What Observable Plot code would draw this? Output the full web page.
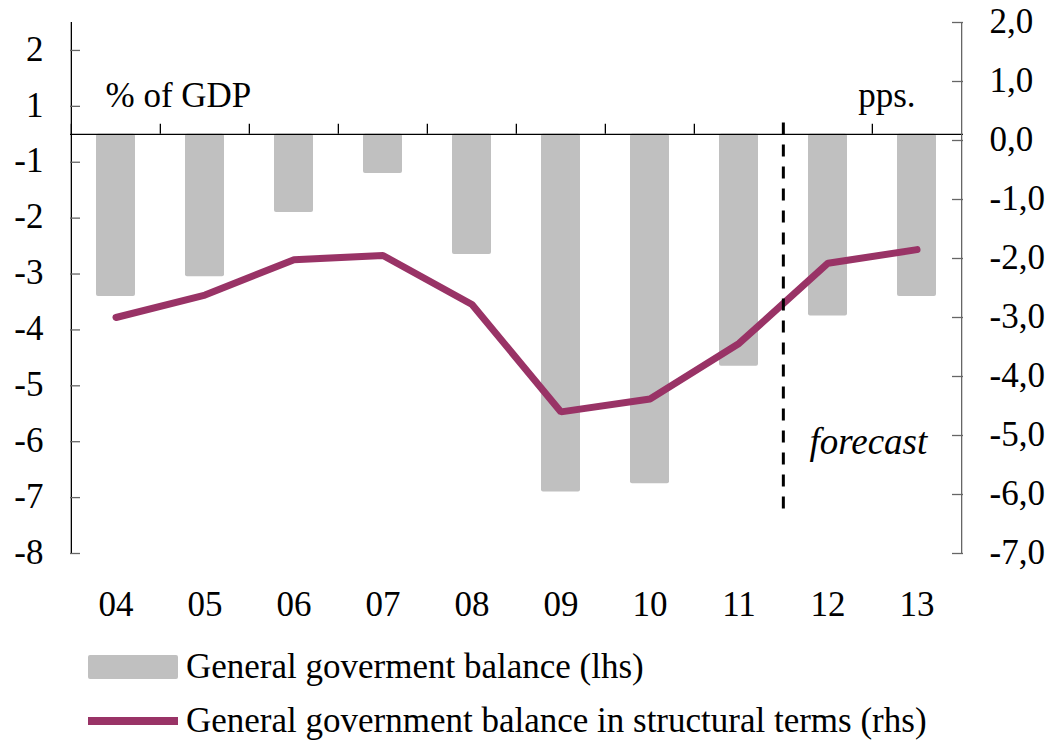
<!DOCTYPE html>
<html>
<head>
<meta charset="utf-8">
<script src="https://cdn.jsdelivr.net/npm/d3@7"></script>
<script src="https://cdn.jsdelivr.net/npm/@observablehq/plot@0.6"></script>
<style>
  html, body { margin: 0; padding: 0; background: #fff; overflow: hidden; }
  #chart svg { display: block; }
  #legend { font-family: "Liberation Serif", "Times New Roman", serif; font-size: 35px; color: #000; }
  #legend .row { display: flex; align-items: center; height: 54px; padding-left: 88px; white-space: nowrap; }
  #legend .sw { display: inline-block; width: 90px; margin-right: 8px; flex: none; }
</style>
</head>
<body>
<div id="chart"></div>
<div id="legend"></div>
<script>
// ---- data ----
const years = ["04", "05", "06", "07", "08", "09", "10", "11", "12", "13"];
const balance = [-2.9, -2.55, -1.4, -0.7, -2.15, -6.4, -6.25, -4.15, -3.25, -2.9];          // lhs, % of GDP
const structural = [-3.0, -2.62, -2.02, -1.95, -2.78, -4.6, -4.38, -3.44, -2.08, -1.85];   // rhs, pps.
const seriesNames = ["General goverment balance (lhs)", "General government balance in structural terms (rhs)"];
const seriesColors = ["#c0c0c0", "#993366"];

const leftDomain = [-7.5, 2];
const leftTickValues = [1.5, 0.5, -0.5, -1.5, -2.5, -3.5, -4.5, -5.5, -6.5, -7.5];
const leftTickLabels = ["2", "1", "-1", "-2", "-3", "-4", "-5", "-6", "-7", "-8"];
const rightDomain = [-7, 2];
const rightTickValues = [2, 1, 0, -1, -2, -3, -4, -5, -6, -7];
const rightTickLabels = ["2,0", "1,0", "0,0", "-1,0", "-2,0", "-3,0", "-4,0", "-5,0", "-6,0", "-7,0"];
const forecastRule = [{year: "12", from: 0.2, to: -6.75}];
const forecastNote = [{year: "13", value: -5.5, label: "forecast"}];
const unitNotes = ["% of GDP", "pps."];

// ---- layout ----
const W = 1048, H = 640;
const mL = 70, mR = 85, mT = 22, mB = 87;
const plotW = W - mL - mR;
const step = plotW / years.length;

// map a rhs value onto the lhs scale
const toLeft = r => leftDomain[0] + (r - rightDomain[0]) * (leftDomain[1] - leftDomain[0]) / (rightDomain[1] - rightDomain[0]);

const barData = years.map((y, i) => ({year: y, value: balance[i]}));
const lineData = years.map((y, i) => ({year: y, value: toLeft(structural[i])}));
const leftTicks = leftTickValues.map((v, i) => ({v, label: leftTickLabels[i]}));
const rightTicks = rightTickValues.map((r, i) => ({v: toLeft(r), label: rightTickLabels[i]}));

const chart = Plot.plot({
  width: W, height: H,
  marginLeft: mL, marginRight: mR, marginTop: mT, marginBottom: mB,
  style: {fontFamily: "'Liberation Serif', 'Times New Roman', serif", fontSize: "35px", background: "#fff", color: "#000"},
  x: {type: "band", domain: years, paddingInner: 0.56, paddingOuter: 0.28, axis: null},
  y: {domain: leftDomain, axis: null},
  marks: [
    // bars
    Plot.barY(barData, {x: "year", y: "value", fill: seriesColors[0], rx: 2}),
    // zero line
    Plot.ruleY([0], {stroke: "#000", strokeWidth: 1.3}),
    // category boundary ticks on zero line
    Plot.ruleX(years, {x: d => d, y1: 0, y2: 0, insetBottom: 10, dx: -step / 2, stroke: "#000", strokeWidth: 1.3}),
    // left axis line & ticks
    Plot.ruleX([years[0]], {x: d => d, dx: -step / 2, stroke: "#000", strokeWidth: 1.3}),
    Plot.ruleY(leftTicks, {y: "v", insetRight: plotW - 10, stroke: "#666", strokeWidth: 1.3}),
    Plot.text(leftTicks, {y: "v", text: "label", frameAnchor: "left", textAnchor: "end", dx: -27, dy: -1}),
    // right axis line & ticks
    Plot.ruleX([years[years.length - 1]], {x: d => d, dx: step / 2, stroke: "#666", strokeWidth: 1.3}),
    Plot.ruleY(rightTicks, {y: "v", insetLeft: plotW - 11, stroke: "#666", strokeWidth: 1.3}),
    Plot.text(rightTicks, {y: "v", text: "label", frameAnchor: "right", textAnchor: "start", dx: 26, dy: -1}),
    // x labels
    Plot.text(years, {x: d => d, text: d => d, frameAnchor: "bottom", dy: 62}),
    // structural balance line
    Plot.line(lineData, {x: "year", y: "value", stroke: seriesColors[1], strokeWidth: 7, strokeLinejoin: "miter"}),
    // forecast separator
    Plot.ruleX(forecastRule, {x: "year", y1: "from", y2: "to", dx: -step / 2, stroke: "#000", strokeWidth: 3, strokeDasharray: "12,10"}),
    Plot.text(forecastNote, {x: "year", y: "value", text: "label", fontStyle: "italic", fontSize: 37, dx: -step / 2 - 4}),
    // unit notes
    Plot.text([unitNotes[0]], {text: d => d, frameAnchor: "top-left", textAnchor: "start", dx: 35, dy: 60}),
    Plot.text([unitNotes[1]], {text: d => d, frameAnchor: "top-right", textAnchor: "end", dx: -48, dy: 60})
  ]
});
document.getElementById("chart").appendChild(chart);

// ---- legend ----
const legend = document.getElementById("legend");
seriesNames.forEach((name, i) => {
  const row = document.createElement("div");
  row.className = "row";
  const sw = document.createElement("span");
  sw.className = "sw";
  if (i === 0) { sw.style.height = "24px"; sw.style.background = seriesColors[0]; sw.style.borderRadius = "2px"; }
  else { sw.style.height = "8px"; sw.style.background = seriesColors[1]; }
  const label = document.createElement("span");
  label.textContent = name;
  row.appendChild(sw);
  row.appendChild(label);
  legend.appendChild(row);
});
</script>
</body>
</html>
